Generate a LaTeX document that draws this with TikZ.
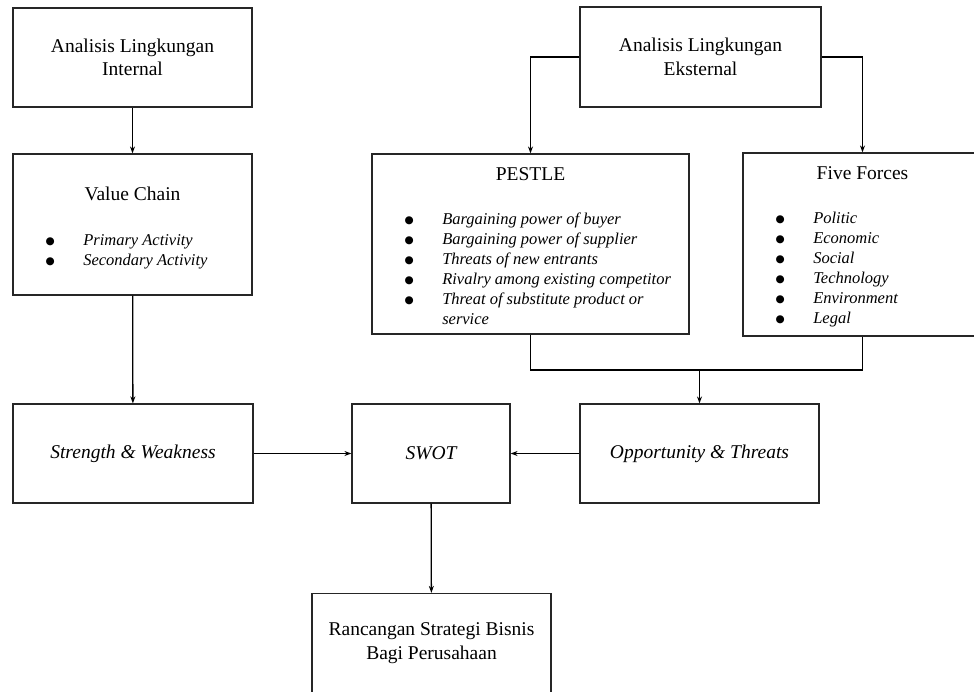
\documentclass[tikz,border=0pt]{standalone}
\usepackage{fontspec}
\setmainfont{Liberation Serif}
\newfontfamily\symfont{DejaVu Sans}
\usetikzlibrary{arrows.meta}
\tikzset{
  box/.style={draw=black!85, line width=1.2pt, inner sep=0pt, align=center, font=\fontsize{19.5}{23.5}\selectfont},
  head/.style={inner sep=0pt, font=\fontsize{19.5}{23.5}\selectfont},
  items/.style={inner sep=0pt, anchor=base west, font=\fontsize{16.5}{20}\selectfont\itshape},
}
\newcommand{\bt}{\raisebox{1.2pt}{\symfont\fontsize{10.5}{20}\selectfont ●}}
\newcommand{\itemcol}{@{}p{37.7pt}@{}l@{}}
\begin{document}
\begin{tikzpicture}[x=1pt, y=-1pt, >={Stealth[length=7pt,width=5pt]}, line width=1.3pt]
\useasboundingbox (0,0) rectangle (974,691);
\clip (0,0) rectangle (974,691);
\node[box, minimum width=239pt, minimum height=99pt] (intern) at (132.5,57.5) {Analisis Lingkungan\\Internal};
\node[box, minimum width=239pt, minimum height=141pt] (vchain) at (132.5,224.5) {};
\node[box, minimum width=241pt, minimum height=100pt] (extern) at (700.5,57) {Analisis Lingkungan\\Eksternal};
\node[box, minimum width=317pt, minimum height=180pt] (pestle) at (530.5,244) {};
\node[box, minimum width=239pt, minimum height=183pt] (five) at (862.5,244.5) {};
\node[box, minimum width=240pt, minimum height=99pt, font=\fontsize{19.5}{23.5}\selectfont\itshape] (strength) at (133,453.5) {Strength \& Weakness};
\node[box, minimum width=158pt, minimum height=99pt, font=\fontsize{19.5}{23.5}\selectfont\itshape] (swot) at (431,453.5) {SWOT};
\node[box, minimum width=239pt, minimum height=99pt, font=\fontsize{19.5}{23.5}\selectfont\itshape] (opport) at (699.5,453.5) {Opportunity \& Threats};
\node[box, minimum width=239pt, minimum height=99pt] (strategi) at (431.5,643) {Rancangan Strategi Bisnis\\Bagi Perusahaan};

\node[head, anchor=base] (vchainT) at ([yshift=-47.5pt]vchain.north) {Value Chain};
\node[items] (vchainL) at ([xshift=32.5pt, yshift=-92pt]vchain.north west) {\begin{tabular}[t]{\itemcol}
\bt & Primary Activity\\
\bt & Secondary Activity
\end{tabular}};
\node[head, anchor=base] (pestleT) at ([yshift=-27.5pt]pestle.north) {PESTLE};
\node[items] (pestleL) at ([xshift=32.5pt, yshift=-71.5pt]pestle.north west) {\begin{tabular}[t]{\itemcol}
\bt & Bargaining power of buyer\\
\bt & Bargaining power of supplier\\
\bt & Threats of new entrants\\
\bt & Rivalry among existing competitor\\
\bt & Threat of substitute product or\\
 & service
\end{tabular}};
\node[head, anchor=base] (fiveT) at ([yshift=-27pt]five.north) {Five Forces};
\node[items] (fiveL) at ([xshift=32.5pt, yshift=-71.5pt]five.north west) {\begin{tabular}[t]{\itemcol}
\bt & Politic\\
\bt & Economic\\
\bt & Social\\
\bt & Technology\\
\bt & Environment\\
\bt & Legal
\end{tabular}};

\coordinate (merge) at (699.5,370);
\draw[->] (intern) -- (vchain);
\draw[->] (vchain) -- (strength);
\draw[->] (extern.west) -| (pestle.north);
\draw[->] (extern.east) -| (five.north);
\draw (pestle.south) |- (merge) -| (five.south);
\draw[->] (merge) -- (opport.north);
\draw[->] (strength) -- (swot);
\draw[->] (opport) -- (swot);
\draw[->] (swot) -- (strategi);
\end{tikzpicture}
\end{document}
